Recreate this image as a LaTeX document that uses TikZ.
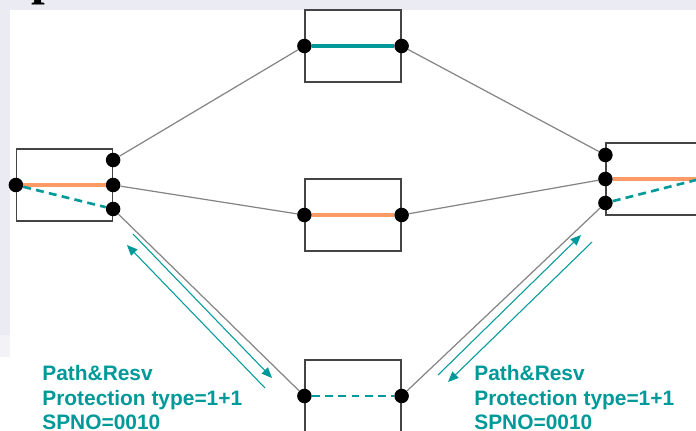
\documentclass[tikz,border=0pt]{standalone}
\usepackage{fontspec}
\setsansfont{Liberation Sans}
\newfontfamily\ttlfont{Liberation Serif}
\usepackage{tikz}
\usetikzlibrary{positioning}
\usetikzlibrary{calc}
\usetikzlibrary{arrows.meta}

\definecolor{protcol}{HTML}{009999}
\definecolor{workcol}{HTML}{FF9966}
\definecolor{linkcol}{HTML}{858585}
\definecolor{boxcol}{HTML}{444444}
\definecolor{slidecol}{HTML}{EAEBF3}
\definecolor{slidecolb}{HTML}{F2F2F7}

\tikzset{
    nebox/.style={draw=boxcol, line width=0.7pt, minimum width=1.92cm, minimum height=1.44cm, inner sep=0pt},
    port/.style={circle, fill=black, minimum size=0.29cm, inner sep=0pt},
    link/.style={draw=linkcol, line width=0.7pt},
    worksel/.style={draw=workcol, line width=2pt},
    protsel/.style={draw=protcol, line width=1.8pt},
    protdash/.style={draw=protcol, line width=1.5pt, dash pattern=on 4.5pt off 3pt},
    sig/.style={draw=protcol, line width=0.6pt, -{Triangle[length=6pt, width=5pt]}},
    lbl/.style={text=protcol, font=\sffamily\bfseries\fontsize{11.9}{13}\selectfont, anchor=base west, inner sep=0pt}
}

\begin{document}
\begin{tikzpicture}[x=0.02cm, y=-0.02cm]
    \useasboundingbox (0,0) rectangle (696,430);

    % slide background
    \fill[slidecol] (0,0) rectangle (696,10);
    \fill[slidecol] (0,0) rectangle (10,335);
    \fill[slidecolb] (0,335) rectangle (10,357);
    \node[anchor=base west, inner sep=0pt, font=\ttlfont\bfseries\fontsize{28}{28}\selectfont] (ttl) at (31,-6) {p};

    % network elements
    \node[nebox] (neA) at (64.5,185) {};
    \node[nebox] (neB) at (353,46) {};
    \node[nebox] (neC) at (353,215) {};
    \node[nebox] (neD) at (353,396) {};
    \node[nebox] (neE) at (654,179) {};

    % ports
    \node[port] (a0) at (neA.west) {};
    \node[port] (a2) at (neA.east) {};
    \node[port] (a1) at ($(neA.east)+(0,-25)$) {};
    \node[port] (a3) at ($(neA.east)+(0,24)$) {};
    \node[port] (b1) at (neB.west) {};
    \node[port] (b2) at (neB.east) {};
    \node[port] (c1) at (neC.west) {};
    \node[port] (c2) at (neC.east) {};
    \node[port] (d1) at (neD.west) {};
    \node[port] (d2) at (neD.east) {};
    \node[port] (e2) at (neE.west) {};
    \node[port] (e1) at ($(neE.west)+(0,-24)$) {};
    \node[port] (e3) at ($(neE.west)+(0,24)$) {};
    \coordinate (eOut) at (696,179);
    \coordinate (eDash) at (696,180);

    % fibres
    \draw[link] (a1) -- (b1);
    \draw[link] (a2) -- (c1);
    \draw[link] (a3) -- (d1);
    \draw[link] (b2) -- (e1);
    \draw[link] (c2) -- (e2);
    \draw[link] (d2) -- (e3);

    % cross-connections
    \draw[worksel] (a0) -- (a2);
    \draw[protdash] (a0) -- (a3);
    \draw[protsel] (b1) -- (b2);
    \draw[worksel] (c1) -- (c2);
    \draw[protdash] (d1) -- (d2);
    \draw[worksel] (e2) -- (eOut);
    \draw[protdash] (e3) -- (eDash);

    % signalling
    \coordinate (sl1) at (133,234);
    \coordinate (sl2) at (272,378);
    \coordinate (sl3) at (265,388);
    \coordinate (sl4) at (127,245);
    \coordinate (sr1) at (438,375);
    \coordinate (sr2) at (581,235);
    \coordinate (sr3) at (592,242);
    \coordinate (sr4) at (448,382);
    \draw[sig] (sl1) -- (sl2);
    \draw[sig] (sl3) -- (sl4);
    \draw[sig] (sr1) -- (sr2);
    \draw[sig] (sr3) -- (sr4);

    % labels
    \node[lbl] (pathL) at (42,380) {Path\&Resv};
    \node[lbl] (typeL) at (42,405) {Protection type=1+1};
    \node[lbl] (spnoL) at (42,429) {SPNO=0010};
    \node[lbl] (pathR) at (474,380) {Path\&Resv};
    \node[lbl] (typeR) at (474,405) {Protection type=1+1};
    \node[lbl] (spnoR) at (474,429) {SPNO=0010};
\end{tikzpicture}
\end{document}
